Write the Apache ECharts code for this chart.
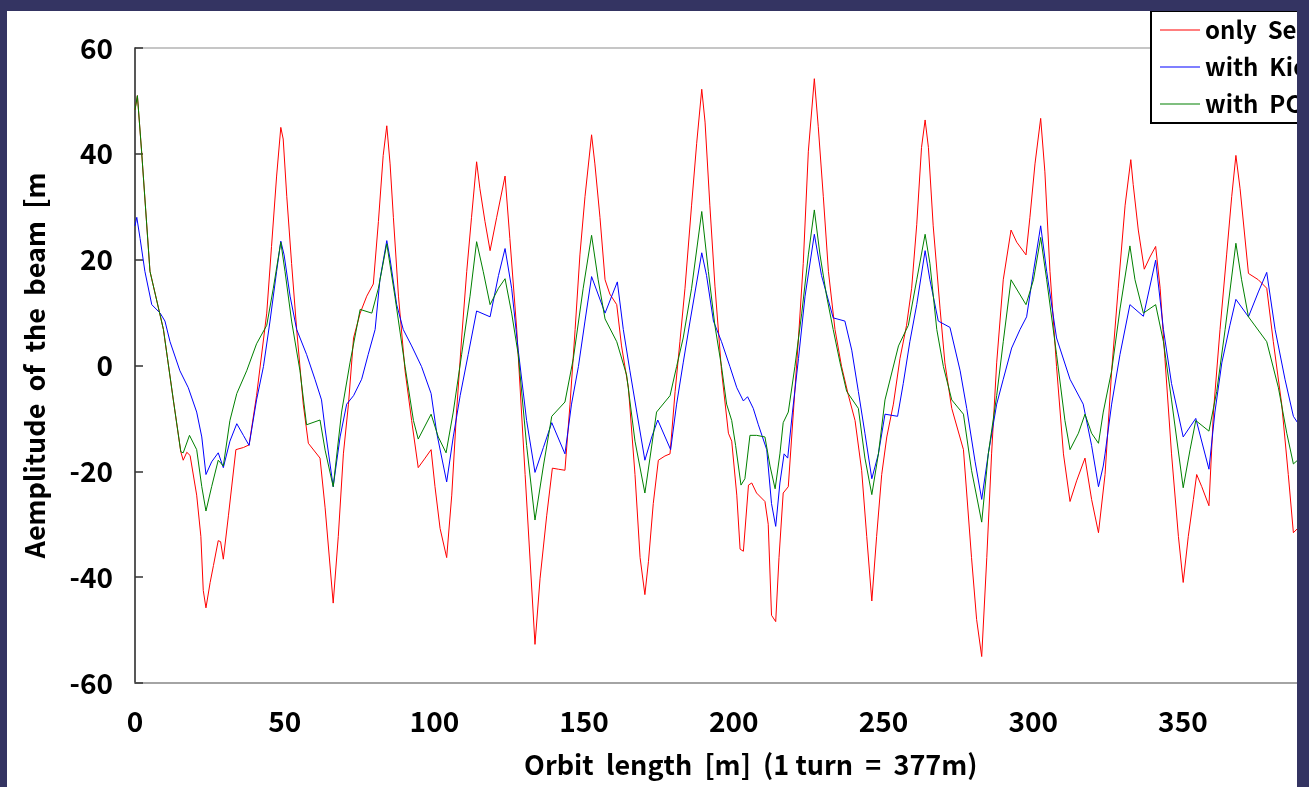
<!DOCTYPE html>
<html>
<head>
<meta charset="utf-8">
<script src="https://cdn.jsdelivr.net/npm/echarts@6/dist/echarts.min.js"></script>
<style>
  html, body { margin: 0; padding: 0; background: #343462; width: 1309px; height: 787px; overflow: hidden; }
  #frame { position: absolute; left: 7px; top: 11px; width: 1290px; height: 776px; overflow: hidden; background: #fff; }
  #main { width: 1420px; height: 776px; }
</style>
</head>
<body>
<div id="frame"><div id="main"></div></div>
<script>
// orbit position [m] and amplitude [mm]
const septumX = [0, 0.8, 2.2, 5, 9.5, 12.8, 15.3, 16.1, 17.3, 18.4, 20.6, 22, 22.8, 23.7, 25.1, 26.2, 27.8, 28.6, 29.5, 31.2, 33.7, 36.2, 38.1, 40.6, 44, 45.6, 47.3, 48.7, 49.5, 50.7, 52.3, 54, 56.2, 57.9, 61.8, 63.5, 66.2, 67.9, 69.6, 71.3, 73, 75.2, 77.4, 79.6, 81.3, 82.9, 84.1, 85.2, 86.3, 88, 90.2, 92.4, 94.6, 96.9, 98.9, 100.2, 101.9, 104.1, 105.8, 107.4, 109.1, 110.8, 112.4, 114.1, 115.2, 116.9, 118.6, 120.8, 123.6, 125.2, 127.5, 130.3, 133.6, 135.3, 137.5, 139.4, 141.4, 143.6, 145.3, 147, 148.6, 150.3, 152.5, 153.6, 155.3, 157, 158.6, 160.9, 162.5, 164.8, 167, 168.7, 170.3, 171.5, 173.1, 174.8, 177, 178.7, 180.4, 182, 183.7, 185.9, 187.6, 189.3, 190.4, 192, 193.7, 195.9, 198.2, 199.3, 201, 202.1, 203.2, 204.9, 206, 207.6, 210.4, 211.5, 212.6, 214, 215.1, 216.5, 218.2, 219.9, 221.6, 223.2, 224.9, 226.9, 228.2, 229.9, 231.6, 233.8, 236, 238.3, 240.5, 242.7, 244.4, 246.1, 247.7, 249.4, 251.1, 253.3, 255.5, 257.7, 259.4, 261.1, 262.7, 263.9, 265, 266.6, 268.9, 270.5, 272.8, 276.7, 279.4, 281.1, 282.8, 284.5, 286.1, 287.8, 290, 292.6, 294.5, 297.6, 298.9, 300.6, 302.5, 303.9, 305.6, 307.8, 310.1, 312.3, 314.5, 317.3, 319.5, 321.8, 324, 326.2, 328.4, 330.7, 332.6, 333.4, 335.1, 337.1, 339, 340.9, 342.4, 344, 346.2, 348.5, 350.1, 351.8, 353.5, 354.6, 356.3, 358.7, 360.2, 362.4, 364.6, 366.3, 367.7, 369.1, 371.9, 375.2, 378, 380.2, 383, 385.2, 386.9, 388.3, 390];
const septumY = [48.3, 51, 40.5, 17.8, 6.8, -6.5, -16.3, -17.9, -16.4, -17, -24.5, -32.3, -42.5, -45.8, -41, -37.8, -33.1, -33.3, -36.6, -28.4, -15.9, -15.5, -15, -5.7, 9.9, 22.5, 35.8, 45, 42.8, 31.9, 19.3, 6.8, -7.3, -14.7, -17.5, -26.9, -44.9, -32.3, -16.7, -7.3, 5.2, 9.9, 13.1, 15.4, 27.2, 39.7, 45.3, 38.1, 28, 13.1, -1, -10.4, -19.3, -17.5, -15.9, -22.9, -30.8, -36.3, -24.5, -8.8, 5.2, 17.8, 28, 38.5, 33.4, 27.2, 21.7, 28, 35.8, 24, 6.8, -20.6, -52.7, -40.2, -28.4, -19.4, -19.6, -19.8, -7.3, 6.8, 20.9, 31.9, 43.6, 38.1, 28, 16.2, 13.5, 11.5, 3.7, -4.2, -20.6, -36.3, -43.3, -37, -26.1, -17.9, -17.1, -16.7, -4.9, 4.5, 14.6, 30.3, 42, 52.2, 46, 30.3, 15, -1, -12.8, -14.3, -24.5, -34.7, -35.1, -22.6, -22.2, -24.1, -25.7, -30, -47.2, -48.4, -36.3, -24.1, -22.9, -8.8, 5.2, 19.3, 40.5, 54.2, 45.2, 31.9, 17.8, 6.8, -0.2, -5.7, -10.4, -19.8, -32.3, -44.5, -32.3, -20.6, -13.5, -7.3, 1.3, 7.6, 14.6, 26.6, 41.2, 46.4, 41.2, 26.4, 10.7, 0.5, -8.1, -15.9, -36.3, -48, -55, -36.3, -16.7, 0.5, 16.2, 25.6, 23.3, 20.9, 28, 38.1, 46.7, 36.6, 17.8, -0.2, -16.7, -25.7, -21.8, -17.5, -25.3, -31.6, -20.6, -1, 14.6, 30.3, 38.9, 34.2, 25.6, 18.2, 20.5, 22.5, 14.6, 1.3, -16.7, -32.3, -41, -32.3, -25.3, -20.6, -22.9, -26.5, -8.8, 6.8, 20.9, 31.9, 39.7, 33.4, 17.4, 16.2, 14.6, 4.5, -7.3, -20.6, -31.6, -30.8, -30];

const kickerX = [0, 0.6, 1.7, 3.3, 5.6, 8.4, 10, 11.7, 15, 17.8, 20.6, 22.3, 23.7, 25.6, 27.8, 29.5, 31.7, 34, 36.2, 38.1, 40.6, 42.9, 45.1, 47.3, 48.7, 49.8, 51.8, 54, 57.3, 60.1, 62.3, 63.5, 66.2, 68.5, 70.7, 73, 75.7, 77.9, 80.2, 81.8, 84.1, 85.2, 87.4, 89.6, 92.4, 95.7, 98.9, 100.8, 104.1, 106.3, 108.6, 111.3, 114.1, 118.6, 121.4, 123.6, 125.8, 128, 130.8, 133.6, 136.4, 139.2, 143.6, 145.8, 148.1, 150.3, 152.5, 157, 161.1, 163.1, 165.3, 167.6, 170.3, 172.6, 174.6, 178.9, 180.9, 183.1, 185.4, 189.3, 190.9, 193.2, 195.9, 198.7, 201, 203.2, 204.6, 206.5, 208.2, 211, 212.6, 214, 215.4, 216.8, 218, 219.6, 221.6, 223.8, 226.9, 229.3, 233.2, 237.1, 239.4, 241.6, 243.8, 246.1, 248.3, 250.5, 254.7, 256.6, 258.8, 261.1, 263.9, 265.5, 268.3, 272.2, 275.6, 277.8, 280.6, 282.8, 285, 287.8, 290, 292.8, 295.6, 297.8, 300.1, 302.5, 304.5, 307.8, 312.3, 316.7, 319.5, 321.8, 323.4, 324, 326.2, 329, 332.3, 336.8, 340.9, 343.5, 346.2, 350.1, 354.3, 358.7, 360.7, 363, 365.7, 367.7, 371.9, 375.2, 378, 380.8, 384.1, 386.9, 388.3, 390];
const kickerY = [26.4, 28, 24, 17.8, 11.5, 9.9, 8.4, 4.5, -1, -4.2, -8.8, -13.5, -20.6, -18.2, -16.5, -19.3, -14.3, -11, -13.2, -15.1, -6.5, -0.2, 8.4, 17.8, 23.5, 20.9, 13.1, 6.8, 2.1, -2.6, -6.5, -12, -22.9, -13.5, -7.3, -5.7, -2.6, 2.1, 6.8, 16.2, 23.6, 20.1, 11.5, 6.8, 3.7, -0.2, -5.3, -12.8, -22, -13.5, -5.7, 2.1, 10.3, 9.2, 17, 22.1, 14.6, 2.9, -10.4, -20.2, -15.5, -10.8, -16.7, -7.3, -0.2, 8.4, 16.8, 9.9, 15.8, 6.8, -1, -8.8, -17.9, -13.5, -10.3, -15.9, -7.3, 0.5, 8.4, 21.3, 17, 8.4, 4.5, -0.2, -4.2, -6.7, -5.9, -8.1, -11.2, -15.9, -26.1, -30.4, -22.2, -16.7, -17.5, -8.8, 1.3, 13.1, 24.8, 17, 9, 8.4, 2.9, -4.9, -12.8, -21.4, -16.7, -9.2, -9.6, -3.4, 4.5, 11.5, 21.7, 16.2, 8.4, 7.2, -1, -8.1, -18.2, -25.3, -16.7, -7.3, -2.6, 3.3, 6.8, 9.2, 17.8, 26.4, 17.8, 5.2, -2.6, -7.3, -15.1, -22.9, -19, -16.7, -7.3, 2.1, 11.5, 9.3, 19.9, 6.8, -3.4, -13.5, -10, -19.6, -8.8, 0.5, 7.6, 12.5, 9.2, 13.9, 17.6, 6.8, -2.6, -9.6, -10.8, -11.5];

const pcX = [0, 0.8, 2.2, 5, 9.5, 12.8, 15.3, 16.1, 18.2, 20.6, 22.3, 23.7, 25.6, 27.8, 29.5, 31.7, 34, 37.3, 40.6, 44, 46.2, 48.7, 50.1, 52.3, 55.1, 57.3, 61.8, 63.5, 66.2, 69, 71.8, 75.2, 79.1, 81.3, 84.1, 86.8, 90.2, 93, 94.6, 98.9, 101.3, 103.9, 106.3, 109.1, 111.9, 114.1, 116.3, 118.6, 121.4, 123.6, 125.8, 128, 130.8, 133.6, 136.4, 139.2, 143.6, 146.4, 149.7, 152.5, 154.7, 157, 160.9, 164.2, 167, 170.3, 172, 174.2, 178.7, 180.9, 183.1, 185.9, 189.3, 191.5, 193.7, 195.9, 197.6, 199.3, 200.6, 202.4, 203.7, 205.4, 207.6, 210.4, 212.1, 213.8, 215.4, 216.5, 218.2, 220.4, 222.7, 224.9, 226.9, 228.8, 231, 233.2, 235.5, 237.7, 241.6, 243.8, 246.1, 248.3, 250.5, 255, 258.3, 261.1, 263.9, 265.5, 267.8, 270, 272.8, 276.7, 279.4, 282.8, 285, 287.8, 290, 292.6, 297.6, 300.1, 302.5, 304.5, 307.8, 310.6, 312.3, 315.1, 317.3, 319.5, 321.8, 323.4, 326.2, 329, 332.3, 334, 336.8, 340.9, 343.5, 346.2, 350.1, 352.4, 354.3, 358.7, 361.3, 364.1, 367.7, 369.6, 371.9, 378, 381.9, 384.7, 386.9, 388.3, 390];
const pcY = [48.3, 51, 40.5, 17.8, 6.8, -6.5, -16.3, -16.5, -13.2, -15.9, -22.9, -27.5, -22.9, -17.9, -19, -10.4, -5.3, -1, 4.1, 7.6, 14.6, 23.3, 17.8, 8.4, -1, -11.2, -10.3, -16, -22.9, -8.8, 0.5, 10.6, 9.9, 14.6, 23, 13.1, -0.2, -10.4, -13.9, -9.2, -13.5, -16.5, -8.8, 2.1, 13.1, 23.4, 17.8, 11.5, 14.6, 16.4, 9.9, 2.1, -15.1, -29.2, -19, -9.6, -6.9, 1.3, 14.6, 24.6, 16.2, 8.8, 4.5, -1.8, -14.3, -24.1, -17.5, -8.8, -5.7, -0.2, 5.2, 14.6, 29.1, 17.8, 7.5, -0.2, -7.3, -10.4, -15.1, -22.6, -21.4, -13.2, -13.2, -13.5, -19, -23.3, -16.7, -10.8, -8.8, -0.2, 9.9, 20.9, 29.4, 20.9, 13.1, 6.8, 0.5, -4.9, -8.1, -17.5, -24.4, -16.7, -6.5, 3.7, 7.6, 16.2, 24.8, 19.3, 6.8, -0.2, -6.5, -9.2, -19.8, -29.6, -16.7, -5.7, 4.5, 16.2, 11.5, 16.2, 24.2, 16.2, 2.1, -10.4, -15.9, -12.8, -9.2, -12.8, -14.7, -8.8, -1, 10.7, 22.6, 16.2, 9.9, 11.5, 4.5, -6.5, -23.1, -15.9, -10.4, -12.4, -4.9, 6.8, 23.1, 16.2, 9.2, 4.5, -4.2, -12.8, -18.6, -17.9, -17];

const seriesNames = ['only  Septum', 'with  Kicker', 'with  PCM'];
const seriesColors = ['#ff0000', '#0000ff', '#008000'];
const xTicks = { min: 0, max: 400, interval: 50 };
const yTicks = { min: -60, max: 60, interval: 20 };

function zip(xs, ys) {
  return xs.map((x, i) => [x, ys[i]]);
}

window.onload = function () {
  const myChart = echarts.init(document.getElementById('main'));
  const font = "'Noto Sans CJK JP', 'Noto Sans', sans-serif";
  const pairs = [zip(septumX, septumY), zip(kickerX, kickerY), zip(pcX, pcY)];
  const option = {
    animation: false,
    backgroundColor: '#fff',
    grid: {
      left: 128,
      top: 37,
      width: 1197.6,
      height: 635,
      show: true,
      borderColor: '#b4b4b4',
      borderWidth: 1.5,
      outerBoundsMode: 'none'
    },
    legend: {
      orient: 'vertical',
      left: 1144,
      top: 0,
      selectedMode: false,
      backgroundColor: '#fff',
      borderColor: '#000',
      borderWidth: 2,
      borderRadius: 0,
      padding: [7, 20, 7, 9],
      itemGap: 13,
      itemWidth: 40,
      itemHeight: 1.2,
      icon: 'rect',
      textStyle: { fontFamily: font, fontWeight: 'bold', fontSize: 24, color: '#000' },
      data: seriesNames
    },
    xAxis: {
      type: 'value',
      min: xTicks.min,
      max: xTicks.max,
      interval: xTicks.interval,
      name: 'Orbit  length  [m]  (1 turn  =  377m)',
      nameLocation: 'middle',
      nameGap: 68,
      nameTextStyle: { fontFamily: font, fontWeight: 'bold', fontSize: 27, color: '#000', padding: [0, 0, 0, 34] },
      axisLine: { show: true, onZero: false, lineStyle: { color: '#999', width: 1.5 } },
      axisTick: { show: false },
      splitLine: { show: false },
      axisLabel: { fontFamily: font, fontWeight: 'bold', fontSize: 28, color: '#000', margin: 24 }
    },
    yAxis: {
      type: 'value',
      min: yTicks.min,
      max: yTicks.max,
      interval: yTicks.interval,
      name: 'Aemplitude  of  the  beam  [m',
      nameLocation: 'middle',
      nameRotate: 90,
      nameGap: 87,
      nameTextStyle: { fontFamily: font, fontWeight: 'bold', fontSize: 27, color: '#000' },
      axisLine: { show: true, onZero: false, lineStyle: { color: '#333', width: 1.5 } },
      axisTick: { show: true, inside: true, length: 8, lineStyle: { color: '#333', width: 1.5 } },
      splitLine: { show: false },
      axisLabel: { fontFamily: font, fontWeight: 'bold', fontSize: 28, color: '#000', margin: 22 }
    },
    series: seriesNames.map((name, i) => ({
      name: name,
      type: 'line',
      data: pairs[i],
      symbol: 'none',
      color: seriesColors[i],
      lineStyle: { color: seriesColors[i], width: 1 },
      z: 2 + i
    }))
  };
  myChart.setOption(option, true);
};
</script>
</body>
</html>
